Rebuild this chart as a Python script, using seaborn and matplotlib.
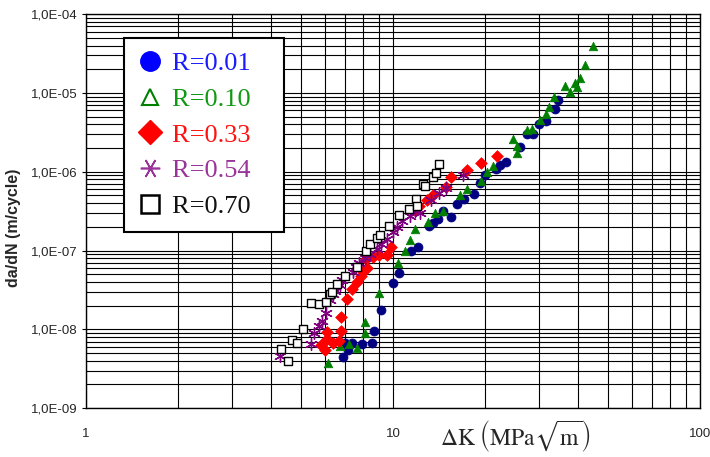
import numpy as np
import pandas as pd
import matplotlib.pyplot as plt
import matplotlib.ticker as mticker
from matplotlib.lines import Line2D
import seaborn as sns

sns.set_style('white')
plt.rcParams['font.family'] = ['Liberation Sans', 'DejaVu Sans']
plt.rcParams['mathtext.fontset'] = 'stix'

# R = 0.01
dk_001 = [6.87, 7.14, 6.98, 7.35, 7.93, 8.54, 8.67, 9.14, 10.0, 10.46, 11.45, 12.06, 13.1, 13.5,
          14.02, 14.55, 15.45, 16.16, 17.03, 18.36, 19.2, 19.94, 21.65, 22.31, 23.34, 25.93,
          27.33, 28.58, 29.9, 31.51, 33.71, 34.48]
da_001 = [4.43e-9, 5.45e-9, 6.68e-9, 6.68e-9, 6.5e-9, 6.68e-9, 9.48e-9, 1.75e-8, 3.86e-8, 5.17e-8,
          9.8e-8, 1.10e-7, 2.04e-7, 2.23e-7, 2.50e-7, 3.17e-7, 2.65e-7, 3.88e-7, 4.49e-7, 5.20e-7,
          7.17e-7, 9.05e-7, 1.08e-6, 1.21e-6, 1.32e-6, 2.05e-6, 3.0e-6, 3.0e-6, 4.02e-6, 4.38e-6,
          6.23e-6, 8.1e-6]
# R = 0.10
dk_010 = [6.14, 6.72, 7.19, 7.63, 8.11, 8.11, 9.0, 10.38, 10.94, 11.36, 11.79, 13.0, 13.71, 14.55,
          16.53, 17.42, 19.35, 20.24, 21.17, 24.6, 25.34, 25.34, 27.33, 28.37, 30.12, 31.51, 32.23,
          33.46, 36.34, 37.72, 39.16, 39.75, 40.65, 42.21, 44.83]
da_010 = [3.72e-9, 6.12e-9, 6.5e-9, 5.77e-9, 1.23e-8, 8.95e-9, 2.88e-8, 6.91e-8, 9.8e-8, 1.36e-7,
          1.87e-7, 2.30e-7, 2.98e-7, 3.17e-7, 5.05e-7, 6.02e-7, 7.6e-7, 9.9e-7, 1.18e-6, 2.59e-6,
          2.11e-6, 1.72e-6, 3.37e-6, 3.48e-6, 4.52e-6, 5.38e-6, 6.6e-6, 8.84e-6, 1.22e-5, 1.02e-5,
          1.33e-5, 1.18e-5, 1.54e-5, 2.25e-5, 3.93e-5]
# R = 0.33
dk_033 = [5.83, 6.0, 6.1, 6.1, 6.38, 6.67, 6.77, 6.77, 7.08, 7.35, 7.63, 7.87, 7.99, 8.23, 8.17,
          8.61, 9.0, 9.56, 9.85, 11.79, 12.15, 12.9, 13.5, 14.88, 15.45, 17.42, 19.35, 21.82]
da_033 = [6.3e-9, 5.45e-9, 9.2e-9, 7.5e-9, 6.68e-9, 7.08e-9, 9.48e-9, 1.43e-8, 2.42e-8, 3.24e-8,
          3.97e-8, 4.74e-8, 5.48e-8, 5.98e-8, 7.77e-8, 8.25e-8, 8.74e-8, 8.74e-8, 1.10e-7, 3.26e-7,
          3.67e-7, 4.36e-7, 5.05e-7, 6.37e-7, 8.54e-7, 1.05e-6, 1.28e-6, 1.58e-6]
# R = 0.54
dk_054 = [4.28, 5.41, 5.53, 5.74, 5.87, 6.05, 6.23, 6.38, 6.47, 6.72, 6.82, 7.41, 7.58, 7.75, 8.11,
          8.42, 8.87, 9.14, 9.56, 10.0, 10.3, 10.7, 11.36, 11.79, 12.24, 13.3, 14.12, 14.88, 16.9]
da_054 = [4.57e-9, 6.5e-9, 8.95e-9, 1.10e-8, 1.27e-8, 1.60e-8, 2.35e-8, 2.79e-8, 3.06e-8, 3.64e-8,
          4.26e-8, 5.32e-8, 6.17e-8, 6.91e-8, 8.0e-8, 9.0e-8, 1.04e-7, 1.21e-7, 1.39e-7, 1.71e-7,
          1.98e-7, 2.36e-7, 2.73e-7, 3.17e-7, 2.98e-7, 4.36e-7, 5.35e-7, 6.19e-7, 9.05e-7]
# R = 0.70
dk_070 = [4.32, 4.55, 4.69, 4.87, 5.09, 5.41, 5.74, 6.05, 6.23, 6.33, 6.57, 6.98, 7.63, 8.17, 8.42,
          8.87, 9.07, 9.71, 10.46, 11.28, 11.88, 11.97, 12.52, 12.71, 13.5, 13.81, 14.12]
da_070 = [5.61e-9, 3.95e-9, 7.27e-9, 6.68e-9, 1.01e-8, 2.15e-8, 2.09e-8, 2.21e-8, 2.79e-8, 2.96e-8,
          3.74e-8, 4.74e-8, 6.17e-8, 9.8e-8, 1.21e-7, 1.44e-7, 1.57e-7, 2.04e-7, 2.81e-7, 3.35e-7,
          4.49e-7, 3.67e-7, 6.96e-7, 6.56e-7, 8.54e-7, 9.6e-7, 1.25e-6]

labels = ['R=0.01', 'R=0.10', 'R=0.33', 'R=0.54', 'R=0.70']
x_ticks = [1, 10, 100]
y_ticks = [1e-9, 1e-8, 1e-7, 1e-6, 1e-5, 1e-4]
y_ticklabels = ['1,0E-09', '1,0E-08', '1,0E-07', '1,0E-06', '1,0E-05', '1,0E-04']

fig = plt.figure(figsize=(7.1, 4.57), dpi=100)
ax = fig.add_axes([0.121, 0.107, 0.865, 0.862])
ax.set_xscale('log')
ax.set_yscale('log')

# plot markers (differ a bit from the legend symbols, as in the original)
sns.scatterplot(x=dk_001, y=da_001, ax=ax, marker='o', color='#000080', edgecolor='#000080',
                s=42, linewidth=0.5, legend=False, zorder=3)
sns.scatterplot(x=dk_010, y=da_010, ax=ax, marker='^', color='#008000', edgecolor='#008000',
                s=38, linewidth=0.5, legend=False, zorder=3)
sns.scatterplot(x=dk_033, y=da_033, ax=ax, marker='D', color='#ff0000', edgecolor='#ff0000',
                s=36, linewidth=0.5, legend=False, zorder=3)
sns.scatterplot(x=dk_054, y=da_054, ax=ax, marker=(6, 2, 0), color='#800080', edgecolor='#800080',
                s=70, linewidth=1.0, legend=False, zorder=3)
sns.scatterplot(x=dk_070, y=da_070, ax=ax, marker='s', facecolor='white', edgecolor='black',
                s=26, linewidth=1.0, legend=False, zorder=3)

ax.set_xlim(1, 100)
ax.set_ylim(1e-9, 1e-4)
ax.set_xticks(x_ticks, [str(t) for t in x_ticks])
ax.set_yticks(y_ticks, y_ticklabels)
ax.xaxis.set_minor_locator(mticker.LogLocator(base=10, subs=np.arange(2, 10)))
ax.yaxis.set_minor_locator(mticker.LogLocator(base=10, subs=np.arange(2, 10)))
ax.xaxis.set_minor_formatter(mticker.NullFormatter())
ax.yaxis.set_minor_formatter(mticker.NullFormatter())
ax.set_xlim(1, 100)
ax.set_ylim(1e-9, 1e-4)

ax.grid(True, which='both', color='black', linewidth=0.8)
ax.set_axisbelow(True)
for sp in ax.spines.values():
    sp.set_color('black')
    sp.set_linewidth(1.0)

ax.tick_params(axis='y', which='major', direction='out', length=3, pad=3, labelsize=9.5, color='black', left=True)
ax.tick_params(axis='x', which='major', direction='out', length=0, pad=14, labelsize=9.5, bottom=True)
ax.tick_params(which='minor', length=0)

ax.set_ylabel('da/dN (m/cycle)', fontsize=11.5, fontweight='bold')
ax.yaxis.set_label_coords(-0.106, 0.457)
ax.set_xlabel(r'$\Delta\mathrm{K}\ \left(\mathrm{MPa}\sqrt{\mathrm{m}}\right)$', fontsize=17)
ax.xaxis.set_label_coords(0.70, -0.025)

handles = [
    Line2D([], [], ls='none', marker='o', markersize=14, color='#0000ff'),
    Line2D([], [], ls='none', marker='^', markersize=12, markerfacecolor='white',
           markeredgecolor='#008000', markeredgewidth=1.5),
    Line2D([], [], ls='none', marker='D', markersize=12.5, color='#ff0000'),
    Line2D([], [], ls='none', marker=(6, 2, 30), markersize=14, color='#993399', markeredgewidth=1.2),
    Line2D([], [], ls='none', marker='s', markersize=12.5, markerfacecolor='white',
           markeredgecolor='black', markeredgewidth=1.8),
]
# trailing spaces widen the box on the right like the original
leg_labels = [lab + '   ' for lab in labels]
leg = ax.legend(handles, leg_labels, loc='upper left', bbox_to_anchor=(0.062, 0.939), borderaxespad=0,
                frameon=True, fancybox=False, framealpha=1, edgecolor='black',
                prop={'family': 'Liberation Serif', 'size': 19},
                labelcolor=['#1a1aff', '#119911', '#ff1111', '#993399', '#111111'],
                handletextpad=0.33, handlelength=1.0, labelspacing=0.47, borderpad=0.5)
leg.get_frame().set_linewidth(1.5)

fig.savefig('out.png', dpi=100)
plt.close(fig)
